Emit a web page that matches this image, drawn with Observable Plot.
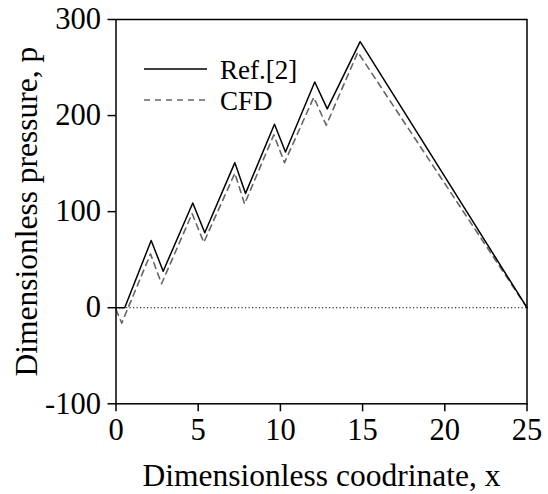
<!DOCTYPE html>
<html><head><meta charset="utf-8">
<script src="https://cdn.jsdelivr.net/npm/d3@7"></script>
<script src="https://cdn.jsdelivr.net/npm/@observablehq/plot@0.6"></script>
<style>
body{margin:0;background:#fff;}
#wrap{position:relative;width:548px;height:494px;font-family:"Liberation Serif","Times New Roman",Times,"DejaVu Serif",serif;}
#legend{position:absolute;left:0;top:0;pointer-events:none;}
</style>
</head><body><div id="wrap"></div>
<script>
// Ref.[2] series
const refX = [0, 0.53, 2.14, 2.87, 4.67, 5.40, 7.23, 7.88, 9.64, 10.31, 12.09, 12.85, 14.85, 25];
const refP = [0, 0, 70, 38, 109, 78, 151, 119, 191, 162, 235, 207, 277, 0];
// CFD series
const cfdX = [0, 0.35, 2.10, 2.77, 4.63, 5.34, 7.23, 7.82, 9.60, 10.25, 12.03, 12.79, 14.71, 25];
const cfdP = [-2, -16, 56, 25, 98, 68, 140, 108, 180, 151, 219, 190, 266, 0];
const xTicks = [0, 5, 10, 15, 20, 25];
const yTicks = [-100, 0, 100, 200, 300];
const seriesNames = ["Ref.[2]", "CFD"];

const FONT = "'Liberation Serif', 'Times New Roman', Times, 'DejaVu Serif', serif";
const ref = refX.map((x, i) => ({x, p: refP[i]}));
const cfd = cfdX.map((x, i) => ({x, p: cfdP[i]}));

const chart = Plot.plot({
  width: 548, height: 494,
  marginLeft: 115.5, marginRight: 21.5, marginTop: 19, marginBottom: 90.7,
  style: {fontFamily: FONT, fontSize: "30.5px", color: "#000", background: "#fff"},
  x: {domain: [0, 25]},
  y: {domain: [-100, 300]},
  marks: [
    Plot.ruleY([0], {stroke: "#000", strokeWidth: 1, strokeDasharray: "1.2,2.3"}),
    Plot.line(cfd, {x: "x", y: "p", stroke: "#666", strokeWidth: 1.6, strokeDasharray: "6,5"}),
    Plot.line(ref, {x: "x", y: "p", stroke: "#000", strokeWidth: 1.5}),
    Plot.frame({stroke: "#000", strokeWidth: 1.5}),
    Plot.axisX({ticks: xTicks, tickSize: 8, tickPadding: 7, tickFormat: d => String(d), fontSize: 30.5, fontFamily: FONT,
      label: null, strokeWidth: 1.5}),
    Plot.axisX({ticks: [], label: "Dimensionless coodrinate, x", labelAnchor: "center", labelArrow: "none",
      labelOffset: 82, fontSize: 31.5, fontFamily: FONT}),
    Plot.axisY({ticks: yTicks, tickSize: 8, tickPadding: 7, tickFormat: d => String(d), fontSize: 30.5, fontFamily: FONT,
      label: null, strokeWidth: 1.5}),
    Plot.axisY({ticks: [], label: "Dimensionless pressure, p", labelAnchor: "center", labelArrow: "none",
      labelOffset: 101, fontSize: 31.5, fontFamily: FONT})
  ]
});
const wrap = document.getElementById("wrap");
wrap.appendChild(chart);

// legend
const ns = "http://www.w3.org/2000/svg";
const lg = document.createElementNS(ns, "svg");
lg.setAttribute("id", "legend");
lg.setAttribute("width", 548); lg.setAttribute("height", 494);
const styles = [{stroke: "#000", dash: null}, {stroke: "#666", dash: "6,5"}];
seriesNames.forEach((name, i) => {
  const y = 69 + i * 31;
  const l = document.createElementNS(ns, "line");
  l.setAttribute("x1", 144); l.setAttribute("x2", 207);
  l.setAttribute("y1", y); l.setAttribute("y2", y);
  l.setAttribute("stroke", styles[i].stroke); l.setAttribute("stroke-width", 1.5);
  if (styles[i].dash) l.setAttribute("stroke-dasharray", styles[i].dash);
  lg.appendChild(l);
  const t = document.createElementNS(ns, "text");
  t.setAttribute("x", 220); t.setAttribute("y", y + 9.5);
  t.setAttribute("style", "font-family:" + FONT + ";font-size:27px");
  t.textContent = name;
  lg.appendChild(t);
});
wrap.appendChild(lg);
</script>
</body></html>
